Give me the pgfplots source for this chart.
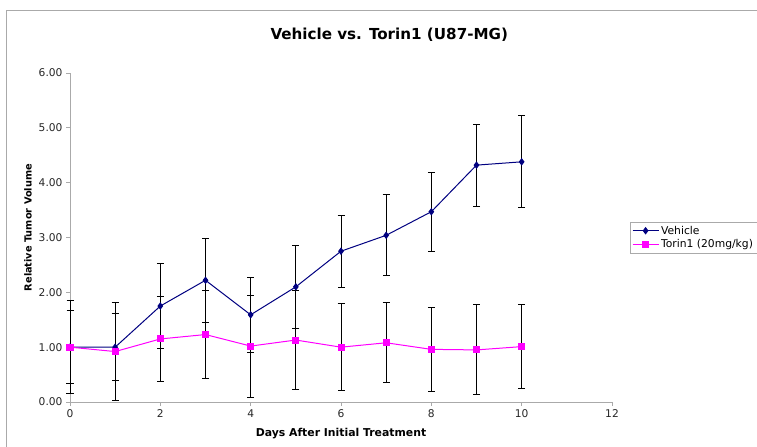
\documentclass[border=0pt]{standalone}
\usepackage{fontspec}
\setmainfont{DejaVu Sans}
\usepackage{pgfplots}
\pgfplotsset{compat=1.18}
\usepackage{pgfplotstable}
\definecolor{vnavy}{RGB}{0,0,128}
\definecolor{tmag}{RGB}{255,0,255}
\definecolor{axgray}{RGB}{170,170,170}

\pgfplotstableread{
x y e
0 1.00 0.85
1 1.00 0.61
2 1.75 0.78
3 2.22 0.77
4 1.59 0.69
5 2.10 0.75
6 2.75 0.66
7 3.04 0.74
8 3.47 0.72
9 4.32 0.75
10 4.38 0.84
}\vehicle

\pgfplotstableread{
x y e
0 1.00 0.67
1 0.92 0.89
2 1.15 0.78
3 1.23 0.80
4 1.02 0.93
5 1.13 0.91
6 1.00 0.79
7 1.08 0.73
8 0.96 0.77
9 0.95 0.82
10 1.01 0.76
}\torin

\begin{document}
\begin{tikzpicture}
\useasboundingbox (0bp,0bp) rectangle (757bp,447bp);
\draw[color=axgray, line width=1bp] (6bp,0bp) -- (6bp,436bp) -- (757bp,436bp);
\begin{axis}[
  at={(70bp,45bp)}, anchor=south west,
  scale only axis, width=542bp, height=329bp,
  xmin=0, xmax=12, ymin=0, ymax=6,
  xtick={0,2,...,12}, ytick={0,1,...,6},
  axis x line*=bottom, axis y line*=left,
  axis line style={axgray, line width=0.8bp},
  tick style={axgray, line width=0.8bp},
  tick align=outside,
  major tick length=4bp,
  /pgf/number format/assume math mode=true,
  yticklabel style={/pgf/number format/.cd, fixed, fixed zerofill, precision=2},
  ticklabel style={font=\fontsize{10.7}{12}\selectfont, text=black!85},
  xlabel={\textbf{Days After Initial Treatment}},
  ylabel={\textbf{Relative Tumor Volume}},
  xlabel style={font=\fontsize{10.9}{12}\selectfont, at={(axis description cs:0.5,-0.097)}, anchor=center},
  ylabel style={font=\fontsize{9.8}{11}\selectfont, at={(axis description cs:-0.0775,0.53)}, anchor=center, rotate=0},
  title={\textbf{Vehicle vs. Torin1 (U87-MG)}},
  title style={font=\fontsize{15.2}{17}\selectfont, at={(axis description cs:0.589,1.098)}, anchor=center},
  legend style={at={(axis description cs:1.033,0.548)}, anchor=north west, draw=axgray,
    font=\fontsize{10.8}{12.5}\selectfont, inner sep=2bp, row sep=0bp, cells={anchor=west}},
  legend image code/.code={\draw[mark repeat=2,mark phase=2] plot coordinates {(0bp,0bp) (13bp,0bp) (26bp,0bp)};},
  clip=false,
]
\addplot[color=vnavy, line width=1bp, mark=diamond*, mark size=3bp, mark options={fill=vnavy, draw=vnavy},
  error bars/.cd, y dir=both, y explicit,
  error bar style={black, line width=0.9bp, solid},
  error mark options={black, mark size=3.5bp, line width=0.9bp, rotate=90}]
  table[x=x, y=y, y error=e]{\vehicle};
\addlegendentry{Vehicle}
\addplot[color=tmag, line width=1bp, mark=square*, mark size=3bp, mark options={fill=tmag, draw=tmag},
  error bars/.cd, y dir=both, y explicit,
  error bar style={black, line width=0.9bp, solid},
  error mark options={black, mark size=3.5bp, line width=0.9bp, rotate=90}]
  table[x=x, y=y, y error=e]{\torin};
\addlegendentry{Torin1 (20mg/kg)}
\end{axis}
\end{tikzpicture}
\end{document}
